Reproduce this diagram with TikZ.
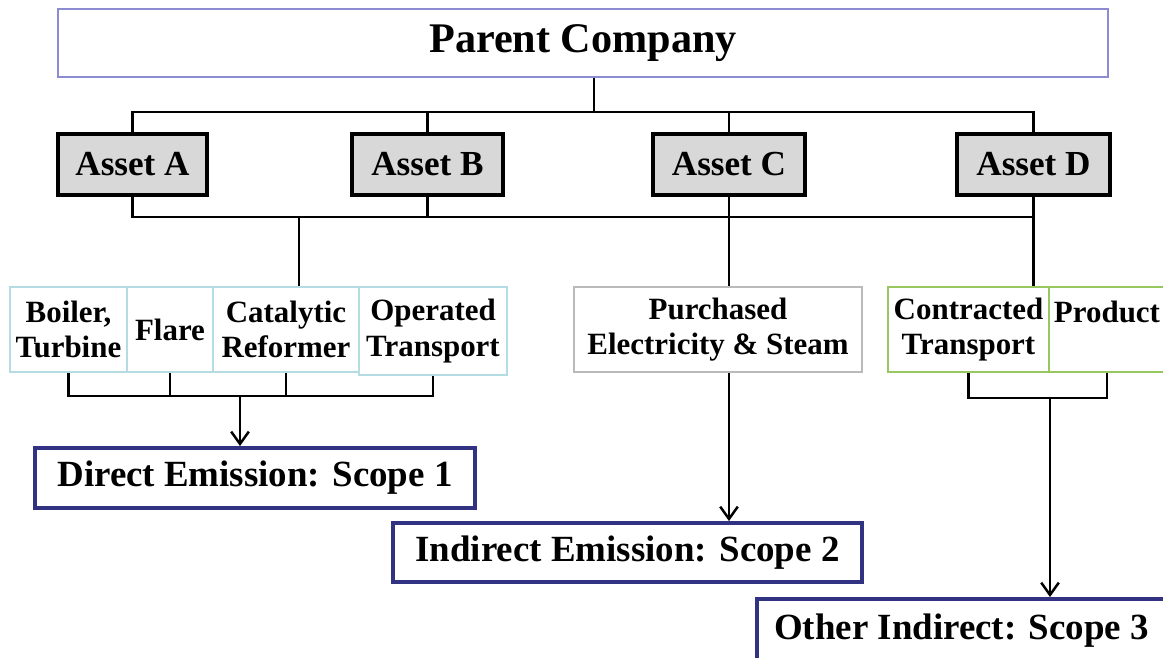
\documentclass[tikz,border=0pt]{standalone}
\usepackage{fontspec}
\setmainfont{Liberation Serif}
\usetikzlibrary{arrows.meta}

\definecolor{parentline}{RGB}{140,140,210}
\definecolor{assetgray}{RGB}{216,216,216}
\definecolor{srcblue}{RGB}{180,220,226}
\definecolor{srcgray}{RGB}{186,186,186}
\definecolor{srcgreen}{RGB}{150,200,95}
\definecolor{scopeblue}{RGB}{50,50,130}

\tikzset{
  parentbox/.style={draw=parentline, line width=0.6pt, inner sep=0pt, font=\bfseries\fontsize{12}{14}\selectfont},
  assetbox/.style={draw=black, fill=assetgray, line width=0.9pt, inner sep=0pt, minimum height=0.61cm, font=\bfseries\fontsize{10}{12}\selectfont},
  sourcebox/.style={draw=#1, line width=0.6pt, inner sep=0pt, minimum height=0.85cm, align=center, font=\bfseries\fontsize{8.8}{10}\selectfont},
  scopebox/.style={draw=scopeblue, line width=1.1pt, inner sep=0pt, minimum height=0.6cm, font=\bfseries\fontsize{10.5}{12}\selectfont},
  link/.style={line width=0.7pt},
  >={Straight Barb[length=3.5pt,width=5pt]}
}

\begin{document}
\begin{tikzpicture}[x=0.01cm, y=-0.01cm]
            \useasboundingbox (0,0) rectangle (1163,657);

            \node[parentbox, minimum width=10.5cm, minimum height=0.68cm] (parent) at (583,43) {Parent Company};

            \node[assetbox, minimum width=1.49cm] (assetA) at (132.5,164.5) {Asset A};
            \node[assetbox, minimum width=1.51cm] (assetB) at (427.5,164.5) {Asset B};
            \node[assetbox, minimum width=1.52cm] (assetC) at (729,164.5) {Asset C};
            \node[assetbox, minimum width=1.53cm] (assetD) at (1033.5,164.5) {Asset D};

            \coordinate (busTop) at (594,112);
            \coordinate (busLow) at (299,217);

            % Emission sources
            \node[sourcebox=srcblue, minimum width=1.17cm] (boiler) at (68.5,329.5) {Boiler,\\Turbine};
            \node[sourcebox=srcblue, minimum width=0.86cm] (flare) at (170,329.5) {Flare};
            \node[sourcebox=srcblue, minimum width=1.46cm] (cat) at (286,329.5) {Catalytic\\Reformer};
            \node[sourcebox=srcblue, minimum width=1.48cm, minimum height=0.88cm] (oper) at (433,331) {Operated\\Transport};
            \node[sourcebox=srcgray, minimum width=2.88cm] (purch) at (718,329.5) {Purchased\\Electricity \& Steam};
            \node[sourcebox=srcgreen, minimum width=1.61cm] (contr) at (968.5,329.5) {Contracted\\Transport};
            \node[sourcebox=srcgreen, minimum width=1.16cm] (product) at (1107,329.5) {Product\\\mbox{}};

            \coordinate (srcJoin) at (240,396);
            \coordinate (contrJoin) at (1050,398);

            % Scopes
            \node[scopebox, minimum width=4.40cm] (direct) at (255,478) {Direct Emission: Scope 1};
            \node[scopebox, minimum width=4.69cm, minimum height=0.59cm] (indirect) at (627.5,552.5) {Indirect Emission: Scope 2};
            \node[scopebox, minimum width=4.20cm, minimum height=0.63cm] (other) at (967,630.5) {\hspace*{-0.11cm}Other Indirect: Scope 3};

            % Ownership tree
            \draw[link] (parent.south -| busTop) -- (busTop);
            \draw[link] (assetA.north) |- (busTop) -| (assetD.north);
            \draw[link] (assetB.north) -- (assetB.north |- busTop);
            \draw[link] (assetC.north) -- (assetC.north |- busTop);
            \draw[link] (assetA.south) |- (busLow) -| (assetD.south);
            \draw[link] (assetB.south) -- (assetB.south |- busLow);
            \draw[link] (busLow) -- (busLow |- cat.north);
            \draw[link] (assetC.south) -- (assetC.south |- purch.north);
            \draw[link] (assetD.south) -- (assetD.south |- contr.north);

            % Sources to scopes
            \draw[link] (boiler.south) |- (srcJoin) -| (oper.south);
            \draw[link] (flare.south) -- (flare.south |- srcJoin);
            \draw[link] (cat.south) -- (cat.south |- srcJoin);
            \draw[link, ->] (srcJoin) -- (srcJoin |- direct.north);
            \draw[link, ->] (assetC.south |- purch.south) -- (assetC.south |- indirect.north);
            \draw[link] (contr.south) |- (contrJoin) -| (product.south);
            \draw[link, ->] (contrJoin) -- (contrJoin |- other.north);
        \end{tikzpicture}
\end{document}
